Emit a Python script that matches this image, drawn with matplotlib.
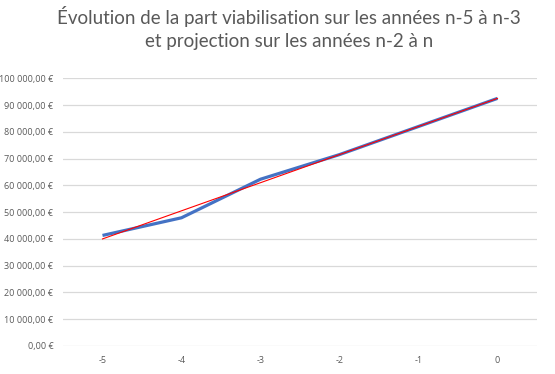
import numpy as np
import matplotlib
matplotlib.use("Agg")
import matplotlib.pyplot as plt
from matplotlib.ticker import FuncFormatter

annees = [-5, -4, -3, -2, -1, 0]
part_viabilisation = [41300, 47900, 62300, 71500, 82000, 92500]

titre = "Évolution de la part viabilisation sur les années n-5 à n-3\net projection sur les années n-2 à n"

plt.rcParams['font.family'] = ['Open Sans', 'DejaVu Sans']

fig = plt.figure(figsize=(5.55, 3.74), dpi=100)
ax = fig.add_axes([63/555, 1 - 346/374, 474/555, (346 - 78.3)/374])

pos = np.arange(len(annees))
ax.plot(pos, part_viabilisation, color="#4472C4", lw=2.3, solid_capstyle="butt", zorder=3)

# courbe de tendance lineaire
a, b = np.polyfit(pos, part_viabilisation, 1)
ax.plot(pos, a * pos + b, color="#FF0000", lw=0.8, zorder=4)

ax.set_xlim(-0.5, len(annees) - 0.5)
ax.set_ylim(0, 100000)
ax.set_yticks(np.arange(0, 100001, 10000))
ax.set_xticks(pos)
ax.set_xticklabels([str(v) for v in annees])

def euro(v, p):
    s = "{:,.2f}".format(v).replace(",", " ").replace(".", ",")
    return s + " €"

ax.yaxis.set_major_formatter(FuncFormatter(euro))
ax.grid(axis="y", color="#D9D9D9", lw=0.9)
ax.set_axisbelow(True)
for sp in ax.spines.values():
    sp.set_visible(False)
ax.tick_params(length=0, labelsize=6.5, colors="#595959")
ax.tick_params(axis="y", pad=7)
ax.tick_params(axis="x", pad=7)

fig.text(289/555, 1 - 6/374, titre, ha="center", va="top", fontsize=13.5,
         color="#595959", linespacing=1.45, family=['Lato', 'DejaVu Sans'])

fig.savefig("out.png", dpi=100)
